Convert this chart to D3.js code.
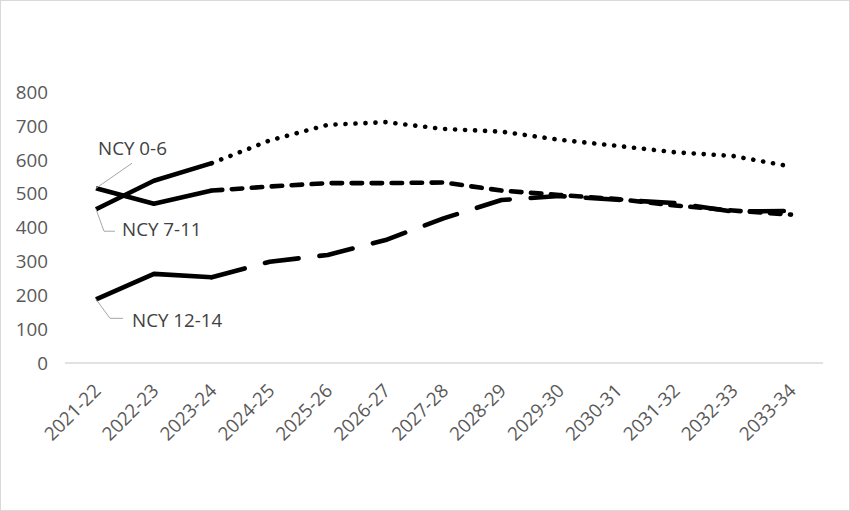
<!DOCTYPE html>
<html><head><meta charset="utf-8">
<script src="https://cdn.jsdelivr.net/npm/d3@7"></script>
<style>
html,body{margin:0;padding:0;background:#fff;}
text{font-family:"Open Sans",sans-serif;}
</style></head>
<body>
<svg id="chart" width="850" height="511"></svg>
<script>
const categories = ["2021-22","2022-23","2023-24","2024-25","2025-26","2026-27","2027-28","2028-29","2029-30","2030-31","2031-32","2032-33","2033-34"];
const ncy06   = [516, 470, 509, 521, 531, 531, 533, 509, 496, 484, 465, 450, 438];
const ncy711  = [454, 538, 590, 657, 703, 711, 691, 683, 659, 641, 622, 611, 580];
const ncy1214 = [188, 263, 253, 299, 319, 363, 427, 481, 493, 482, 472, 447, 449];
const seriesNames = ["NCY 0-6", "NCY 7-11", "NCY 12-14"];
const yTicks = [0,100,200,300,400,500,600,700,800];
const actualCount = 3; // first 3 years are actuals (solid), rest projected

const svg = d3.select("#chart");
svg.append("rect").attr("x",0.5).attr("y",0.5).attr("width",849).attr("height",510)
  .attr("fill","#fff").attr("stroke","#d9d9d9");

const x = d3.scalePoint().domain(categories).range([96, 791]);
const y = d3.scaleLinear().domain([0, 800]).range([363, 92]);
const fs = "18.8px";

// baseline axis
svg.append("line").attr("x1",65).attr("x2",823).attr("y1",y(0)).attr("y2",y(0))
  .attr("stroke","#d9d9d9").attr("stroke-width",1.3);

// y tick labels
svg.append("g").selectAll("text").data(yTicks).join("text")
  .attr("x",48).attr("y",d=>y(d)).attr("dy","0.36em")
  .attr("text-anchor","end").attr("fill","#595959").attr("font-size",fs)
  .text(d=>d);

// x tick labels
svg.append("g").selectAll("text").data(categories).join("text")
  .attr("transform",d=>`translate(${x(d)+6},392) rotate(-45)`)
  .attr("text-anchor","end").attr("fill","#595959").attr("font-size",fs)
  .text(d=>d);

const series = [
  {name: seriesNames[0], values: ncy06,   dash: "10.5 9.5"},
  {name: seriesNames[1], values: ncy711,  dash: "0.1 9.9"},
  {name: seriesNames[2], values: ncy1214, dash: "34 21"}
];
const line = d3.line().x(d=>x(d.c)).y(d=>y(d.v));

series.forEach(s=>{
  const pts = s.values.map((v,i)=>({c:categories[i], v, i}));
  svg.append("path").attr("d", line(pts.filter(p=>p.i < actualCount)))
    .attr("fill","none").attr("stroke","#000").attr("stroke-width",4.6)
    .attr("stroke-linejoin","round");
  svg.append("path").attr("d", line(pts.filter(p=>p.i >= actualCount-1)))
    .attr("fill","none").attr("stroke","#000").attr("stroke-width",4.6)
    .attr("stroke-linecap","round").attr("stroke-linejoin","round")
    .attr("stroke-dasharray", s.dash);
});

// data labels with leader lines
const x0 = x(categories[0]);
const labelG = svg.append("g");
function leader(pts){
  labelG.append("polyline").attr("points", pts.map(p=>p.join(",")).join(" "))
    .attr("fill","none").attr("stroke","#a6a6a6").attr("stroke-width",1);
}
// NCY 0-6
let py = y(ncy06[0]);
leader([[x0, py], [x0+36, py-25]]);
labelG.append("text").attr("x", x0+2).attr("y", py-33).attr("fill","#404040")
  .attr("font-size",fs).text(seriesNames[0]);
// NCY 7-11
py = y(ncy711[0]);
leader([[x0, py], [x0+8, py+22], [x0+19, py+22]]);
labelG.append("text").attr("x", x0+26).attr("y", py+27).attr("fill","#404040")
  .attr("font-size",fs).text(seriesNames[1]);
// NCY 12-14
py = y(ncy1214[0]);
leader([[x0, py], [x0+14, py+19], [x0+27, py+19]]);
labelG.append("text").attr("x", x0+36).attr("y", py+28).attr("fill","#404040")
  .attr("font-size",fs).text(seriesNames[2]);
</script>
</body></html>
